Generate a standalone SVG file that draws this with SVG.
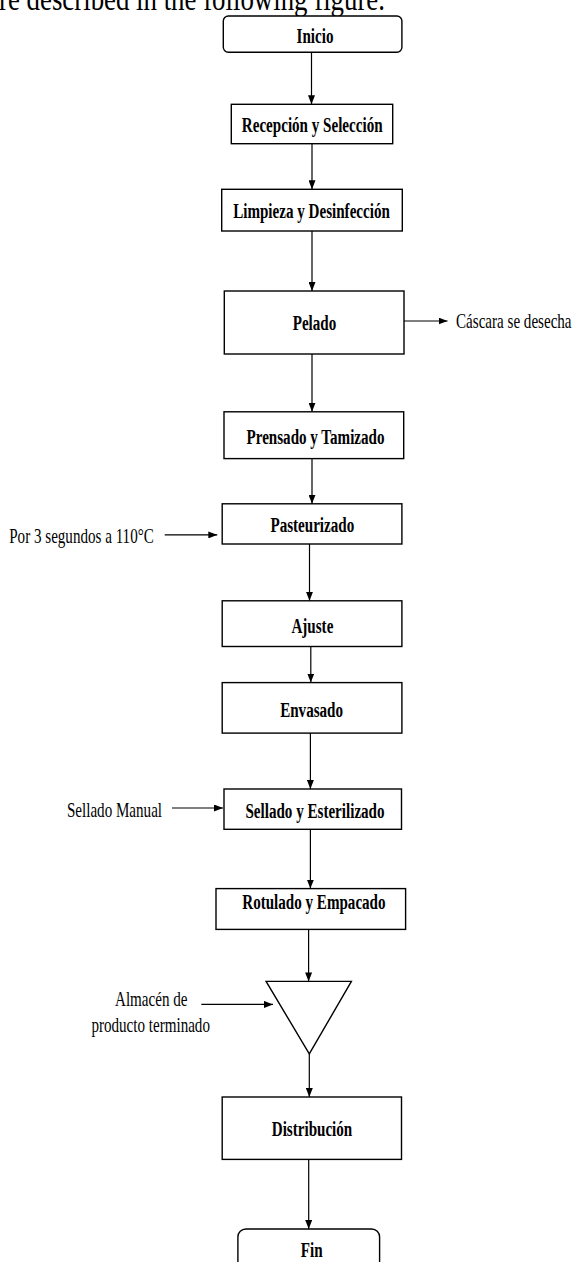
<svg xmlns="http://www.w3.org/2000/svg" width="574" height="1262" viewBox="0 0 574 1262">
<style>
.box{fill:#fff;stroke:#000;stroke-width:1.4}
.ln{fill:none;stroke:#000;stroke-width:1.2}
.lb{font-family:"Liberation Serif","Times New Roman",serif;font-weight:bold;font-size:21.5px;text-anchor:middle;fill:#000}
.tx{font-family:"Liberation Serif","Times New Roman",serif;font-size:21px;text-anchor:middle;fill:#000}
.hd{font-family:"Liberation Serif","Times New Roman",serif;font-size:34px;fill:#000}
</style>
<defs>
<marker id="ah" markerUnits="userSpaceOnUse" markerWidth="9" markerHeight="7" refX="9" refY="3.5" orient="auto">
<path d="M0,0 L9,3.5 L0,7 z" fill="#000"/>
</marker>
</defs>
<rect width="574" height="1262" fill="#fff"/>
<text class="hd" x="-1" y="9.5" textLength="386" lengthAdjust="spacingAndGlyphs">re described in the following figure.</text>

<g id="connectors">
<line class="ln" x1="311.5" y1="52.3" x2="311.5" y2="104.3" marker-end="url(#ah)"/>
<line class="ln" x1="312" y1="143.7" x2="312" y2="189.3" marker-end="url(#ah)"/>
<line class="ln" x1="312" y1="231" x2="312" y2="291" marker-end="url(#ah)"/>
<line class="ln" x1="404" y1="321" x2="447.5" y2="321" marker-end="url(#ah)"/>
<line class="ln" x1="312" y1="354" x2="312" y2="411.8" marker-end="url(#ah)"/>
<line class="ln" x1="312" y1="458.6" x2="312" y2="503.8" marker-end="url(#ah)"/>
<line class="ln" x1="164.7" y1="534.9" x2="217.3" y2="534.9" marker-end="url(#ah)"/>
<line class="ln" x1="309.5" y1="544" x2="309.5" y2="600.8" marker-end="url(#ah)"/>
<line class="ln" x1="310.8" y1="646.5" x2="310.8" y2="682.6" marker-end="url(#ah)"/>
<line class="ln" x1="310.4" y1="733.1" x2="310.4" y2="789" marker-end="url(#ah)"/>
<line class="ln" x1="172" y1="808" x2="223" y2="808" marker-end="url(#ah)"/>
<line class="ln" x1="310.4" y1="829.3" x2="310.4" y2="888.6" marker-end="url(#ah)"/>
<line class="ln" x1="308.6" y1="929.4" x2="308.6" y2="981.4" marker-end="url(#ah)"/>
<line class="ln" x1="201.3" y1="1004.4" x2="273" y2="1004.4" marker-end="url(#ah)"/>
<line class="ln" x1="309.3" y1="1053.9" x2="309.3" y2="1097" marker-end="url(#ah)"/>
<line class="ln" x1="308.7" y1="1159.4" x2="308.7" y2="1229" marker-end="url(#ah)"/>
</g>

<g id="n-inicio"><rect class="box" x="223.3" y="16" width="178.6" height="36.3" rx="5"/><text class="lb" transform="translate(315,43) scale(0.702,1)">Inicio</text></g>
<g id="n-recepcion"><rect class="box" x="231.3" y="104.3" width="161.4" height="39.4"/><text class="lb" transform="translate(312.2,132.3) scale(0.702,1)">Recepción y Selección</text></g>
<g id="n-limpieza"><rect class="box" x="221.7" y="189.3" width="180.6" height="41.7"/><text class="lb" transform="translate(311.5,218.3) scale(0.702,1)">Limpieza y Desinfección</text></g>
<g id="n-pelado"><rect class="box" x="224.3" y="291" width="179.7" height="63"/><text class="lb" transform="translate(314.5,330) scale(0.702,1)">Pelado</text></g>
<g id="l-cascara"><text class="tx" transform="translate(513.8,327.6) scale(0.719,1)">Cáscara se desecha</text></g>
<g id="n-prensado"><rect class="box" x="224" y="411.8" width="179.7" height="46.8"/><text class="lb" transform="translate(315.5,443.6) scale(0.702,1)">Prensado y Tamizado</text></g>
<g id="n-pasteurizado"><rect class="box" x="222.2" y="503.8" width="179.7" height="40.2"/><text class="lb" transform="translate(312.3,532.3) scale(0.702,1)">Pasteurizado</text></g>
<g id="l-por3"><text class="tx" transform="translate(81.5,543) scale(0.719,1)">Por 3 segundos a 110°C</text></g>
<g id="n-ajuste"><rect class="box" x="222.2" y="600.8" width="179.7" height="45.7"/><text class="lb" transform="translate(312.4,633) scale(0.702,1)">Ajuste</text></g>
<g id="n-envasado"><rect class="box" x="222.2" y="682.6" width="179.7" height="50.5"/><text class="lb" transform="translate(311.6,716.6) scale(0.702,1)">Envasado</text></g>
<g id="n-sellado"><rect class="box" x="224" y="789" width="177.5" height="40.3"/><text class="lb" transform="translate(315,818) scale(0.702,1)">Sellado y Esterilizado</text></g>
<g id="l-sellado-manual"><text class="tx" transform="translate(114.5,817) scale(0.719,1)">Sellado Manual</text></g>
<g id="n-rotulado"><rect class="box" x="216" y="888.6" width="189.6" height="40.8"/><text class="lb" transform="translate(313.9,908.5) scale(0.702,1)">Rotulado y Empacado</text></g>
<g id="n-almacen"><polygon class="box" points="266.1,981.4 351.4,981.4 309.3,1053.9"/></g>
<g id="l-almacen"><text class="tx" transform="translate(151.2,1005.5) scale(0.719,1)">Almacén de</text><text class="tx" transform="translate(150.7,1032) scale(0.719,1)">producto terminado</text></g>
<g id="n-distribucion"><rect class="box" x="222.2" y="1097" width="179.3" height="62.4"/><text class="lb" transform="translate(312,1136) scale(0.702,1)">Distribución</text></g>
<g id="n-fin"><rect class="box" x="237.9" y="1229" width="141.7" height="50" rx="8"/><text class="lb" transform="translate(311.7,1257) scale(0.702,1)">Fin</text></g>
</svg>
